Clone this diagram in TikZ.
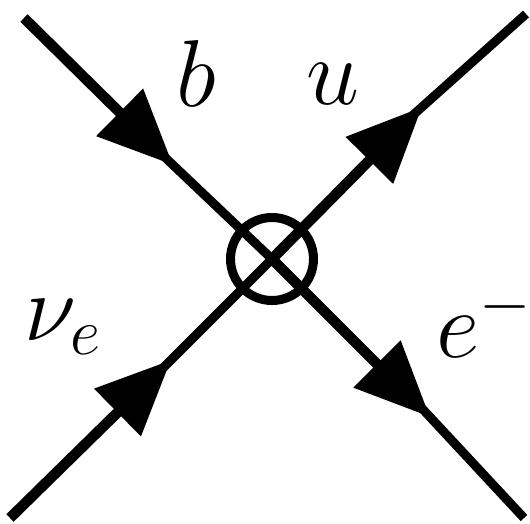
\documentclass[tikz,border=0pt]{standalone}
\usepackage{tikz}
\usetikzlibrary{arrows.meta, positioning}

\begin{document}
\begin{tikzpicture}[
    x=1pt, y=-1pt,
    thinline/.style={line width=9pt, shorten <=-20pt},
    thickline/.style={line width=10.5pt},
    arrow/.style={-{Triangle[length=75pt, width=64pt]}},
    vertex/.style={draw, circle, line width=9pt, minimum size=83pt, inner sep=0pt},
    lbl/.style={font=\LARGE, scale=5.5, transform shape, inner sep=0pt}
]
\useasboundingbox (0,0) rectangle (530,524);

% Nodos
\node (op) [vertex] at (272,259) {};
\coordinate (bin) at (24,18);
\coordinate (uout) at (526,14);
\coordinate (nuin) at (10,518);
\coordinate (eout) at (524,518);
\coordinate (btip) at (173,165);
\coordinate (utip) at (422,107);
\coordinate (nutip) at (171,360);
\coordinate (etip) at (430,417);

\node (blabel) [lbl] at (196,74) {$b$};
\node (ulabel) [lbl] at (333,84) {$u$};
\node (nulabel) [lbl] at (64,327) {$\nu_e$};
\node (elabel) [lbl] at (485,321) {$e^-$};

% Flechas
\draw [thinline] (btip) -- (op.center);
\draw [thinline] (utip) -- (uout);
\draw [thinline] (nutip) -- (op.center);
\draw [thinline] (etip) -- (eout);
\draw [thickline, arrow] (bin) -- (btip);
\draw [thickline, arrow] (op.center) -- (utip);
\draw [thickline, arrow] (nuin) -- (nutip);
\draw [thickline, arrow] (op.center) -- (etip);

\end{tikzpicture}
\end{document}
